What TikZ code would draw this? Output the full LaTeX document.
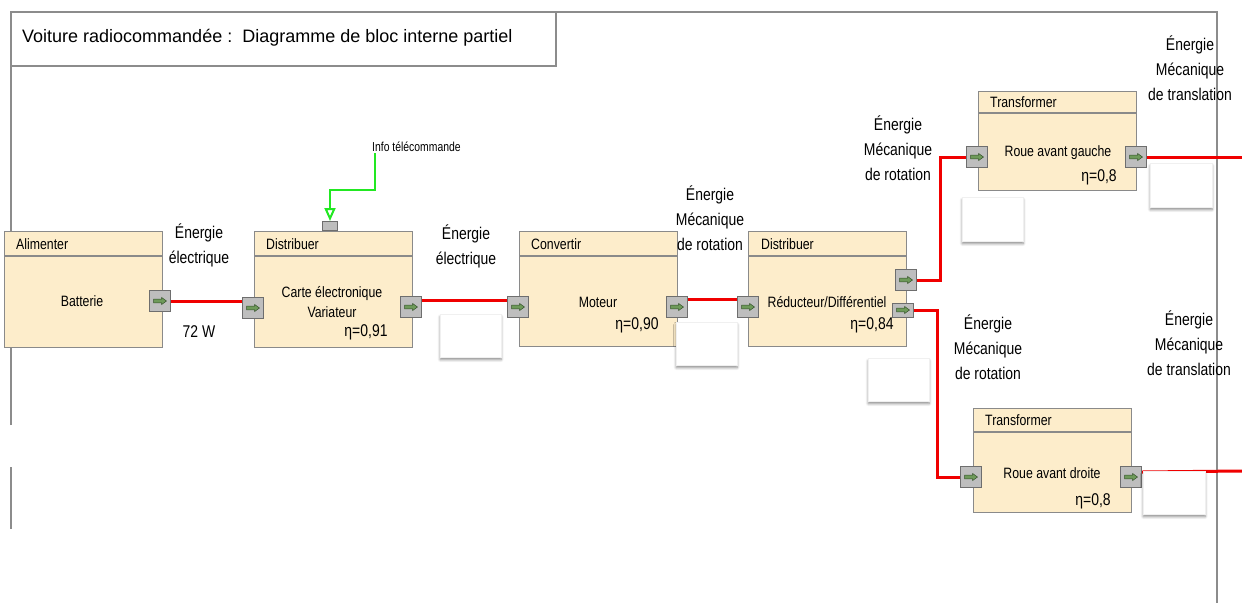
\documentclass[tikz,border=0pt]{standalone}
\usepackage{fontspec}
\setmainfont{Liberation Sans}
\newfontfamily\narrowfont[FakeStretch=0.82]{Liberation Sans}
\newfontfamily\infofont[FakeStretch=0.8]{Liberation Sans}
\usetikzlibrary{arrows.meta,shadows,shadows.blur,calc}
\definecolor{blockfill}{HTML}{FDEDCB}
\definecolor{blockdraw}{HTML}{8A8A8A}
\definecolor{portfill}{HTML}{BEBEBE}
\definecolor{portdraw}{HTML}{6E6E6E}
\definecolor{arrowgreen}{HTML}{6E9A5A}
\definecolor{arrowdark}{HTML}{34502A}
\definecolor{flowred}{HTML}{F00000}
\definecolor{infogreen}{HTML}{22E822}
\definecolor{framegray}{HTML}{8C8C8C}
\begin{document}
\begin{tikzpicture}[x=1pt,y=-1pt,
  frame/.style={draw=framegray, line width=1.6},
  block/.style={draw=blockdraw, fill=blockfill, line width=1.3, anchor=north west, inner sep=0, minimum width=158},
  divider/.style={draw=blockdraw, line width=1.3},
  hdr/.style={font=\narrowfont\fontsize{15}{17}\selectfont, anchor=west, inner sep=0},
  body/.style={font=\narrowfont\fontsize{15}{20}\selectfont, align=center, inner sep=0},
  eta/.style={font=\narrowfont\fontsize{17}{19}\selectfont, inner sep=0},
  energy/.style={font=\narrowfont\fontsize{17}{25}\selectfont, align=center, inner sep=0},
  port/.style={draw=portdraw, fill=portfill, line width=1, minimum width=21, minimum height=21, inner sep=0,
    path picture={\draw[draw=arrowdark, fill=arrowgreen, line width=0.5, shift={(path picture bounding box.center)}]
      (-6.5,-1.8) -- (1.5,-1.8) -- (1.5,-3.6) -- (6.5,0) -- (1.5,3.6) -- (1.5,1.8) -- (-6.5,1.8) -- cycle;}},
  flow/.style={draw=flowred, line width=3},
  labelbox/.style={fill=white, draw=black!6, line width=0.4, anchor=north west, minimum width=61, minimum height=43, inner sep=0,
    blur shadow={shadow xshift=0pt, shadow yshift=-2.5pt, shadow blur radius=2.5pt, shadow blur steps=6, shadow opacity=45}}
]
\useasboundingbox (0,0) rectangle (1242,603);

% frame and title
\draw[frame] (11,425) -- (11,12) -- (1217,12) -- (1217,603);
\draw[frame] (11,467) -- (11,529);
\draw[frame, fill=white] (11,12) rectangle (556,66);
\node[anchor=west, inner sep=0, font=\fontsize{18}{20}\selectfont] (title) at (22,38) {Voiture radiocommandée :\ \ Diagramme de bloc interne partiel};

% blocks
\node[block, minimum height=116] (b1) at (4,231) {};
\node[block, minimum height=116] (b2) at (254,231) {};
\node[block, minimum height=115] (b3) at (519,231) {};
\node[block, minimum height=115] (b4) at (748,231) {};
\node[block, minimum height=99] (b5) at (978,91) {};
\node[block, minimum height=104] (b6) at (973,408) {};

\foreach \b in {b1,b2,b3,b4} {\draw[divider] ([yshift=-25]\b.north west) -- ([yshift=-25]\b.north east);}
\draw[divider] ([yshift=-22]b5.north west) -- ([yshift=-22]b5.north east);
\draw[divider] ([yshift=-24]b6.north west) -- ([yshift=-24]b6.north east);

\node[hdr] (h1) at (16,244) {Alimenter};
\node[hdr] (h2) at (266,244) {Distribuer};
\node[hdr] (h3) at (531,244) {Convertir};
\node[hdr] (h4) at (761,244) {Distribuer};
\node[hdr] (h5) at (990,102) {Transformer};
\node[hdr] (h6) at (985,420) {Transformer};

\node[body] (t1) at (82,301) {Batterie};
\node[body] (t2) at (332,302) {Carte électronique\\Variateur};
\node[eta] (e2) at (366,332) {η=0,91};
\node[body] (t3) at (598,302) {Moteur};
\node[eta] (e3) at (637,325) {η=0,90};
\node[body] (t4) at (827,302) {Réducteur/Différentiel};
\node[eta] (e4) at (872,325) {η=0,84};
\node[body] (t5) at (1058,153) {Roue avant gauche};
\node[eta] (e5) at (1099,177) {η=0,8};
\node[body] (t6) at (1052,473) {Roue avant droite};
\node[eta] (e6) at (1093,501) {η=0,8};

% ports
\node[port] (p1) at (160,301) {};
\node[port] (p2) at (253,308) {};
\node[port] (p3) at (411,307) {};
\node[port] (p4) at (518,307) {};
\node[port] (p5) at (677,307) {};
\node[port] (p6) at (748,307) {};
\node[port] (p7) at (906,280) {};
\node[port, minimum height=14] (p8) at (903,310) {};
\node[port] (p9) at (977,157) {};
\node[port] (p10) at (1136,157) {};
\node[port] (p11) at (971,477) {};
\node[port] (p12) at (1131,477) {};
\node[draw=portdraw, fill=portfill, line width=1, minimum width=15, minimum height=9, inner sep=0] (ctop) at (330,226) {};

% info arrow
\node[anchor=west, inner sep=0, font=\infofont\fontsize{13}{14}\selectfont] (info) at (372,147) {Info télécommande};
\draw[draw=infogreen, line width=2.6, -{Triangle[open, length=13, width=11, line width=2]}]
  ([xshift=3,yshift=-1]info.south west) -- ++(0,37) -| (ctop.north);

% flows
\draw[flow] (p1.east) -- (p1.east -| p2.west);
\draw[flow] ([yshift=7]p3.east) -- ([yshift=7]p4.west);
\draw[flow] ([yshift=8]p5.east) -- ([yshift=8]p6.west);
\draw[flow] (p7.east) -- (940,280) |- (p9.west);
\draw[flow] (p8.east) -- (937,310) |- (p11.west);
\coordinate (o1) at (1242,157);
\coordinate (o2) at (1242,471);
\draw[flow] (p10.east) -- (o1);
\draw[flow] ([yshift=5]p12.east) -- (o2);

% empty label boxes
\node[labelbox] (lb1) at (440,314) {};
\node[labelbox] (lb2) at (676,322) {};
\node[labelbox] (lb3) at (868,358) {};
\node[labelbox, minimum height=44] (lb4) at (962,197) {};
\node[labelbox, minimum width=62, minimum height=44] (lb5) at (1150,163) {};
\node[labelbox, minimum width=62] (lb6) at (1143,471) {};

% energy labels
\node[energy] (l1) at (199,245) {Énergie\\électrique};
\node[eta] (w) at (199,332) {72 W};
\node[energy] (l2) at (466,246) {Énergie\\électrique};
\node[energy] (l3) at (710,218) {Énergie\\Mécanique\\de rotation};
\node[energy] (l4) at (898,148) {Énergie\\Mécanique\\de rotation};
\node[energy] (l5) at (988,347) {Énergie\\Mécanique\\de rotation};
\node[energy] (l6) at (1190,68) {Énergie\\Mécanique\\de translation};
\node[energy] (l7) at (1189,343) {Énergie\\Mécanique\\de translation};
\end{tikzpicture}
\end{document}
